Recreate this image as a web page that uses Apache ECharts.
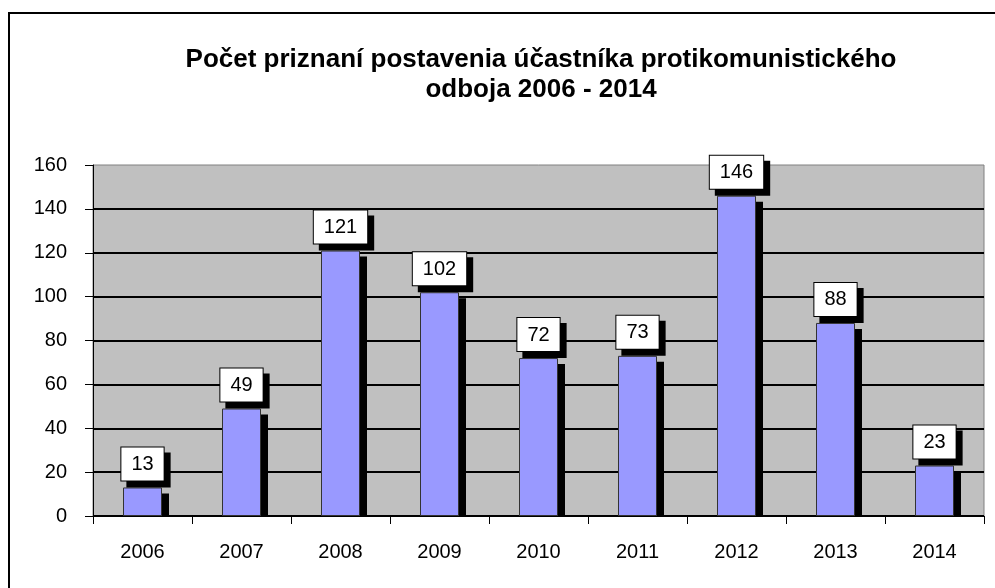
<!DOCTYPE html>
<html>
<head>
<meta charset="utf-8">
<script src="https://cdn.jsdelivr.net/npm/echarts@6/dist/echarts.min.js"></script>
<style>
	html, body { margin: 0; padding: 0; background: #fff; }
	#chart { width: 995px; height: 588px; }
</style>
</head>
<body>
<div id="chart"></div>
<script>
// roky a počty priznaní
const years = ['2006', '2007', '2008', '2009', '2010', '2011', '2012', '2013', '2014']
const counts = [13, 49, 121, 102, 72, 73, 146, 88, 23]
const yTicks = [0, 20, 40, 60, 80, 100, 120, 140, 160]

const font = '"Liberation Sans", Arial, sans-serif'
const barW = 39

const chart = echarts.init(document.getElementById('chart'))

chart.setOption({
	backgroundColor: '#fff',
	animation: false,
	title: {
		text: 'Počet priznaní postavenia účastníka protikomunistického\nodboja 2006 - 2014',
		left: 536,
		textAlign: 'center',
		top: 40,
		textStyle: {
			fontFamily: font,
			fontSize: 26,
			fontWeight: 'bold',
			color: '#000',
			lineHeight: 30,
		},
	},
	graphic: [
		{
			// vonkajší rámik
			type: 'rect',
			shape: { x: 9, y: 13, width: 1000, height: 600 },
			style: { fill: 'none', stroke: '#000', lineWidth: 2 },
			silent: true,
		},
	],
	grid: {
		left: 93,
		right: 11,
		top: 165,
		bottom: 72,
		show: true,
		backgroundColor: '#c0c0c0',
		borderColor: '#808080',
		borderWidth: 1,
	},
	xAxis: {
		type: 'category',
		data: years,
		axisLine: { lineStyle: { color: '#000', width: 1 } },
		axisTick: { show: true, length: 8, lineStyle: { color: '#000' } },
		axisLabel: {
			color: '#000',
			fontFamily: font,
			fontSize: 20,
			margin: 26,
		},
	},
	yAxis: {
		type: 'value',
		min: yTicks[0],
		max: yTicks[yTicks.length - 1],
		interval: yTicks[1] - yTicks[0],
		axisLine: { show: true, lineStyle: { color: '#000', width: 1 } },
		axisTick: { show: true, length: 8, lineStyle: { color: '#000' } },
		axisLabel: {
			color: '#000',
			fontFamily: font,
			fontSize: 20,
			margin: 26,
		},
		splitLine: {
			show: true,
			showMaxLine: false,
			lineStyle: { color: '#000', width: 2 },
		},
	},
	series: [
		{
			// tieň stĺpcov
			type: 'custom',
			z: 1,
			silent: true,
			data: years.map((y, i) => [i, counts[i]]),
			renderItem: (params, api) => {
				const top = api.coord([api.value(0), api.value(1)])
				const base = api.coord([api.value(0), 0])
				return {
					type: 'rect',
					shape: {
						x: top[0] - barW / 2 + 7,
						y: top[1] + 6,
						width: barW,
						height: Math.max(base[1] - top[1] - 6, 0),
					},
					style: { fill: '#000' },
				}
			},
		},
		{
			type: 'bar',
			z: 2,
			data: counts,
			barWidth: barW,
			itemStyle: {
				color: '#9999ff',
				borderColor: '#333',
				borderWidth: 1,
			},
			label: {
				show: true,
				position: 'top',
				distance: 7,
				color: '#000',
				fontFamily: font,
				fontSize: 20,
				backgroundColor: '#fff',
				borderColor: '#000',
				borderWidth: 1,
				padding: [7, 10, 6, 10],
				shadowColor: '#000',
				shadowBlur: 0,
				shadowOffsetX: 6,
				shadowOffsetY: 6,
			},
		},
	],
})
</script>
</body>
</html>
